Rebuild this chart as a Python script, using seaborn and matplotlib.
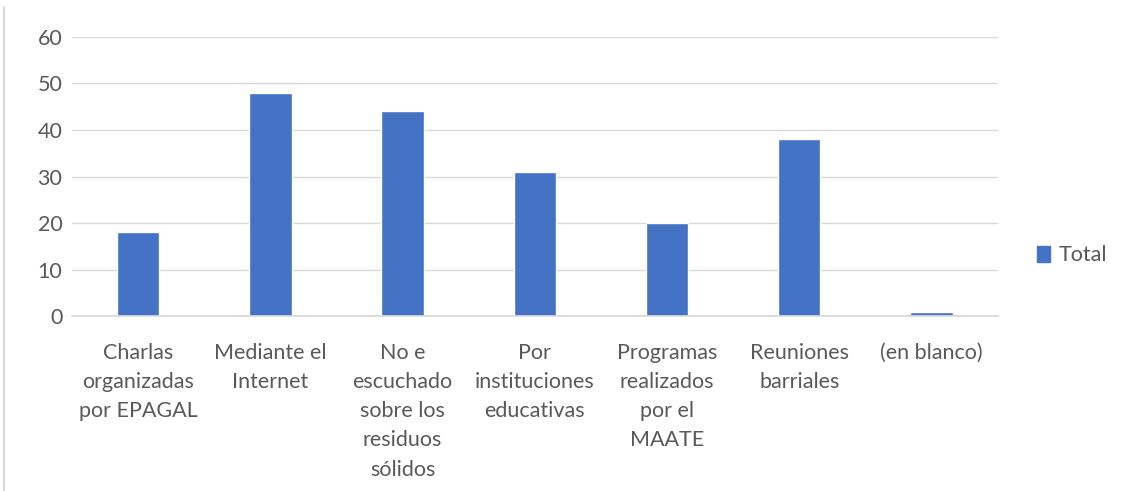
import matplotlib
matplotlib.use('Agg')
import matplotlib.pyplot as plt
import seaborn as sns
import pandas as pd
from matplotlib.patches import Patch
from matplotlib.lines import Line2D

categorias = ['Charlas\norganizadas\npor EPAGAL', 'Mediante el\nInternet',
              'No e\nescuchado\nsobre los\nresiduos\nsólidos', 'Por\ninstituciones\neducativas',
              'Programas\nrealizados\npor el\nMAATE', 'Reuniones\nbarriales', '(en blanco)']
totales = [18, 48, 44, 31, 20, 38, 1]
yticks = [0, 10, 20, 30, 40, 50, 60]

sns.set_theme(style='white')
plt.rcParams['font.family'] = ['Lato', 'DejaVu Sans']

db = pd.DataFrame({'cat': categorias, 'Total': totales})

fig = plt.figure(figsize=(11.31, 4.91), dpi=100)
ax = fig.add_axes([0.0637, 0.356, 0.8183, 0.569])
sns.barplot(data=db, x='cat', y='Total', color='#4472C4', width=0.32, saturation=1, ax=ax)

ax.set_ylim(0, 60)
ax.set_yticks(yticks)
ax.yaxis.grid(True, color='#d9d9d9', linewidth=1)
ax.set_axisbelow(True)
for s in ['top', 'right', 'left']:
    ax.spines[s].set_visible(False)
ax.spines['bottom'].set_color('#d9d9d9')
ax.set_xlabel('')
ax.set_ylabel('')
ax.tick_params(axis='y', length=0, pad=7, labelsize=15.5, labelcolor='#595959')
ax.tick_params(axis='x', length=0, pad=19, labelsize=15.5, labelcolor='#595959')
for t in ax.get_xticklabels():
    t.set_linespacing(1.58)
    t.set_multialignment('center')

fig.legend(handles=[Patch(color='#4472C4', label='Total')], loc='center left',
           bbox_to_anchor=(0.9, 0.48), frameon=False, handlelength=0.6, handleheight=0.8,
           handletextpad=0.4, fontsize=15.5, labelcolor='#595959')

fig.add_artist(Line2D([0.0035, 0.0035], [0.0, 0.985], color='#d0d0d0', linewidth=1.2))

fig.savefig('out.png', dpi=100)
